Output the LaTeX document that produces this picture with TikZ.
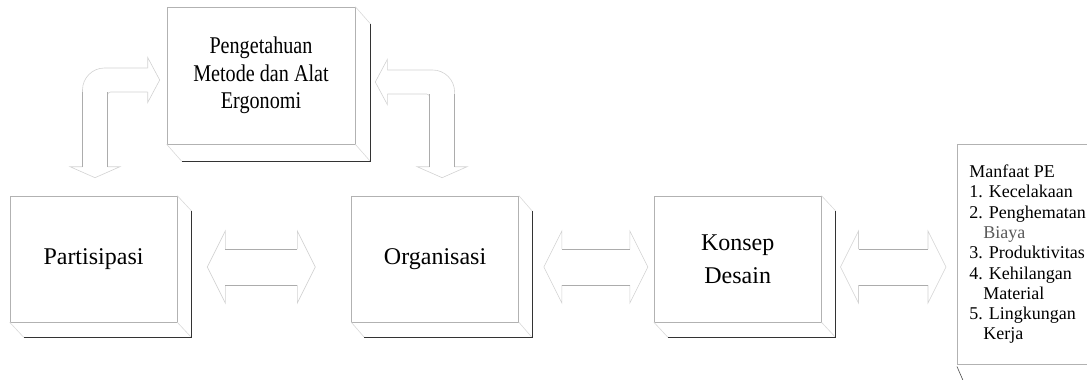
\documentclass[tikz,border=0pt]{standalone}
\usepackage{fontspec}
\setmainfont{Liberation Serif}
\newfontfamily\narrowserif[FakeStretch=0.84]{Liberation Serif}
\usetikzlibrary{positioning,calc}

\newcommand{\boxdepth}[3]{%
  \draw[diag] (#1.north east) -- ++(#2,#3) (#1.south west) -- ++(#2,#3) (#1.south east) -- ++(#2,#3);
  \draw[back] ($(#1.north east)+(#2,#3)$) -- ($(#1.south east)+(#2,#3)$) -- ($(#1.south west)+(#2,#3)$);
}
\newcommand{\twoway}[2]{%
  \draw[headline] ($(#1)+(18,-18)$) -- ($(#1)+(18,-36)$) -- (#1) -- ($(#1)+(18,36)$) -- ($(#1)+(18,18)$)
    ($(#2)+(-18,-18)$) -- ($(#2)+(-18,-36)$) -- (#2) -- ($(#2)+(-18,36)$) -- ($(#2)+(-18,18)$);
  \draw[shaft] ($(#1)+(18,-18)$) -- ($(#2)+(-18,-18)$) ($(#1)+(18,18)$) -- ($(#2)+(-18,18)$);
}
\newcommand{\bentarrow}[3]{%
  \coordinate (bk) at (#2 |- #1);
  \draw[headline, rounded corners=22] ($(#2)+({-12.5*#3},-11)$) -- ($(bk)+({-12.5*#3},-12)$) -- ($(#1)+({-12*#3},-12)$);
  \draw[headline, rounded corners=3] ($(#2)+({12.5*#3},-11)$) -- ($(bk)+({12.5*#3},12)$) -- ($(#1)+({-12*#3},12)$);
  \draw[headline] ($(#1)+({-12*#3},-12)$) -- ($(#1)+({-12*#3},-22.5)$) -- (#1) -- ($(#1)+({-12*#3},22.5)$) -- ($(#1)+({-12*#3},12)$);
  \draw[headline] ($(#2)+(-12.5,-11)$) -- ($(#2)+(-25,-11)$) -- (#2) -- ($(#2)+(25,-11)$) -- ($(#2)+(12.5,-11)$);
  \draw[shaft] ($(#2)+(-12.5,-11)$) -- ($(bk)+(-12.5,12)$) ($(#2)+(12.5,-11)$) -- ($(bk)+(12.5,12)$);
}

\begin{document}
\begin{tikzpicture}[x=1pt, y=-1pt, line width=0.6pt,
box/.style = {draw=gray!60, minimum width=167pt, minimum height=126pt, inner sep=0pt, align=center, font=\fontsize{24}{33}\selectfont},
diag/.style = {gray!30},
back/.style = {black!80},
headline/.style = {gray!35},
shaft/.style = {gray!65},
listbox/.style = {draw=gray!60, anchor=north west, minimum width=140pt, minimum height=220pt, inner xsep=12pt, inner ysep=18pt, align=left, font=\fontsize{18}{20.3}\selectfont}]
\useasboundingbox (0,0) rectangle (1087,380);

\node[box, minimum width=188pt, minimum height=137pt, font=\narrowserif\fontsize{24}{27.5}\selectfont] (know) at (261,75.5) {Pengetahuan\\Metode dan Alat\\Ergonomi};
\node[box] (part) at (93.5,259) {Partisipasi};
\node[box, right=174pt of part] (org) {Organisasi};
\node[box, right=135pt of org] (konsep) {Konsep\\Desain};
\node[listbox] (mf) at (957,144) {Manfaat PE\\1. Kecelakaan\\2. Penghematan\\\hspace*{14pt}{\color{black!65}Biaya}\\3. Produktivitas\\4. Kehilangan\\\hspace*{14pt}Material\\5. Lingkungan\\\hspace*{14pt}Kerja};

\boxdepth{know}{15}{17}
\boxdepth{part}{14}{15}
\boxdepth{org}{13}{15}
\boxdepth{konsep}{14}{15}
\draw[black!70] ($(mf.south west)+(0,2)$) -- ++(7,16);

\coordinate (a1l) at ($(part.east)+(30,8)$);
\coordinate (a1r) at ($(org.west)+(-36,8)$);
\coordinate (a2l) at ($(org.east)+(25,8)$);
\coordinate (a2r) at ($(konsep.west)+(-6,8)$);
\coordinate (a3l) at ($(konsep.east)+(19,8)$);
\coordinate (a3r) at ($(mf.west |- konsep.east)+(-11,8)$);
\twoway{a1l}{a1r}
\twoway{a2l}{a2r}
\twoway{a3l}{a3r}

\coordinate (h1) at ($(know.west)+(-7,4.5)$);
\coordinate (d1) at ($(part.north)+(1.5,-18)$);
\coordinate (h2) at ($(know.east)+(20,6.5)$);
\coordinate (d2) at ($(org.north)+(7,-18)$);
\bentarrow{h1}{d1}{1}
\bentarrow{h2}{d2}{-1}
\end{tikzpicture}
\end{document}
